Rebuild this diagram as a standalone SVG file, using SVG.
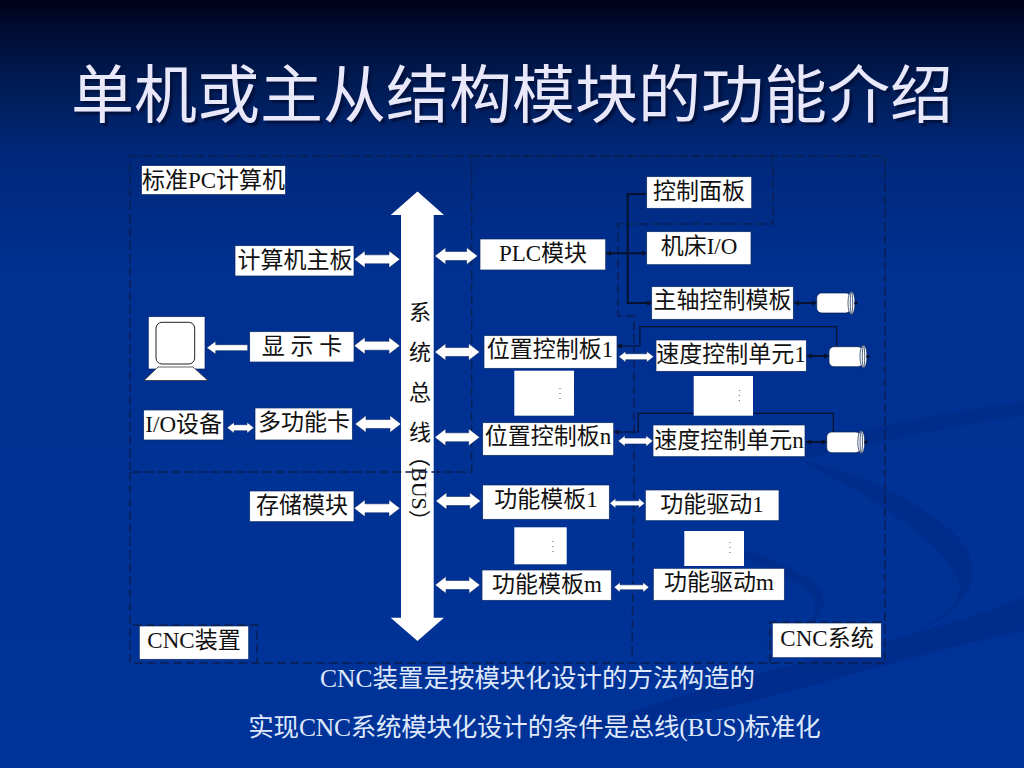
<svg xmlns="http://www.w3.org/2000/svg" width="1024" height="768" viewBox="0 0 1024 768">
<style>
.b{fill:#fff}
.box{fill:#fff;stroke:#0a2a6a;stroke-width:.7}
.t{font-family:"Liberation Serif","Noto Sans CJK SC",serif;font-size:23px;fill:#111;text-anchor:middle}
.cap{font-family:"Liberation Serif","Noto Sans CJK SC",serif;font-size:25.5px;fill:#dfe8fb;text-anchor:middle}
.title{font-family:"Liberation Serif","Noto Sans CJK SC",serif;font-size:63px;fill:#e8e8fa;text-anchor:middle;text-shadow:3px 3px 2px #00123f}
.d{fill:none;stroke:#0a1f52;stroke-width:1.4;stroke-dasharray:9 4}
.k{fill:none;stroke:#06122e;stroke-width:2}
.k1{fill:none;stroke:#06122e;stroke-width:1.2}
.w{fill:#fff;stroke:#0a2a6a;stroke-width:.6}
.dot{fill:none;stroke:#555;stroke-width:1;stroke-dasharray:1 4}
</style>
<defs>
<linearGradient id="bg" x1="0" y1="0" x2="0" y2="1">
<stop offset="0" stop-color="#000018"/><stop offset=".03" stop-color="#000a2c"/><stop offset=".1" stop-color="#001a50"/><stop offset=".2" stop-color="#00287a"/><stop offset=".35" stop-color="#003090"/><stop offset="1" stop-color="#003399"/>
</linearGradient>
<marker id="ka" markerWidth="6" markerHeight="6" refX="5" refY="3" orient="auto-start-reverse" markerUnits="userSpaceOnUse"><path d="M0 .5L6 3L0 5.500z" fill="#06122e"/></marker>
</defs>
<rect width="1024" height="768" fill="url(#bg)"/>
<g id="swoosh" fill="#002a86" opacity=".6">
<path d="M1024 597C930 635 820 655 700 690C640 710 600 720 560 735C650 730 760 700 860 672C930 652 985 640 1024 630Z"/>
<path d="M800 460C880 440 960 425 1024 415L1024 402C950 412 880 425 800 445Z"/>
<path d="M800 460C900 510 960 560 960 590C955 610 930 625 910 635C985 605 985 560 950 530C910 495 850 470 800 460Z"/>
<path d="M700 540C780 570 820 590 815 610C810 625 790 635 770 645C820 630 830 605 820 590C800 565 750 550 700 540Z"/>
</g>
<g id="title"><text class="title" x="512" y="117">单机或主从结构模块的功能介绍</text></g>
<g id="bus"><path class="b" d="M417.500 191.500L444 215H433.700V617.700H444L417.500 641L390.700 617.700H401V215H390.700Z"/>
<text class="t" x="420" y="320" style="font-size:22px">系</text><text class="t" x="420" y="360" style="font-size:22px">统</text><text class="t" x="420" y="400" style="font-size:22px">总</text><text class="t" x="420" y="440" style="font-size:22px">线</text>
<text class="t" transform="translate(412 445) rotate(90)" style="text-anchor:start;font-size:22px">（BUS）</text></g>
<g id="regions">
<path class="d" d="M130 156H471.700V472H130Z"/>
<path class="d" d="M130 472V663H885V156H471.700"/>
<path class="d" d="M471.700 156H773V224H618V316H634V480L632 656"/>
<path class="d" d="M133 625H257V663"/>
<path class="d" d="M770 663V622H885"/>
</g>
<g id="connectors">
<path class="w" d="M354 259.300l11-8.500v4h24v-4l11 8.500-11 8.500v-4h-24v4z"/>
<path class="w" d="M354 345.700l11-8.500v4h24v-4l11 8.500-11 8.500v-4h-24v4z"/>
<path class="w" d="M355 424l11-8.500v4h24v-4l11 8.500-11 8.500v-4h-24v4z"/>
<path class="w" d="M354 508.300l11-8.500v4h24v-4l11 8.500-11 8.500v-4h-24v4z"/>
<path class="w" d="M227 427.700l7-5.500v2.500h13v-2.500l7 5.500-7 5.500v-2.500h-13v2.500z"/>
<path class="w" d="M206.700 347.700l9-6.500v3.500h32v6h-32v3.500z"/>
<path class="w" d="M434.700 256l11-8.500v4h21v-4l11 8.500-11 8.500v-4h-21v4z"/>
<path class="w" d="M434.700 352l11-8.500v4h23v-4l11 8.500-11 8.500v-4h-23v4z"/>
<path class="w" d="M434.700 437.300l11-8.500v4h23v-4l11 8.500-11 8.500v-4h-23v4z"/>
<path class="w" d="M435.700 501l11-8.500v4h23v-4l11 8.500-11 8.500v-4h-23v4z"/>
<path class="w" d="M435 585l11-8.500v4h23v-4l11 8.500-11 8.500v-4h-23v4z"/>
<path class="w" d="M618.700 356.700l7-5.500v2.500h21v-2.500l7 5.500-7 5.500v-2.500h-21v2.500z"/>
<path class="w" d="M618 441l7-5.500v2.500h21v-2.500l7 5.500-7 5.500v-2.500h-21v2.500z"/>
<path class="w" d="M609.700 503.300l6-5v2.500h23v-2.500l6 5-6 5v-2.500h-23v2.500z"/>
<path class="w" d="M614 587.300l6-5v2.500h23v-2.500l6 5-6 5v-2.500h-23v2.500z"/>
<path class="k" marker-start="url(#ka)" marker-end="url(#ka)" d="M606 253.300H647"/>
<path class="k" marker-end="url(#ka)" d="M647 194H627.700V303H652"/>
<path class="k" marker-start="url(#ka)" marker-end="url(#ka)" d="M794 303H817"/>
<path class="k" marker-start="url(#ka)" marker-end="url(#ka)" d="M807 356H829"/>
<path class="k" marker-start="url(#ka)" marker-end="url(#ka)" d="M806 442H827"/>
<path class="k1" marker-start="url(#ka)" d="M617 346H640V326.700H836.700V347"/>
<path class="k1" marker-start="url(#ka)" d="M614 432H638.300V413.300H833.300V433"/>
</g>
<g id="n-pc"><rect class="box" x="141.500" y="165.600" width="144" height="29"/><text class="t" x="213.500" y="188">标准PC计算机</text></g>
<g id="n-main"><rect class="box" x="235" y="245.700" width="119" height="30.300"/><text class="t" x="295" y="268">计算机主板</text></g>
<g id="n-disp"><rect class="box" x="249.700" y="331.700" width="104.300" height="30.300"/><text class="t" x="302" y="354">显 示 卡</text></g>
<g id="n-io"><rect class="box" x="143.700" y="410" width="80" height="30"/><text class="t" x="183.700" y="432">I/O设备</text></g>
<g id="n-multi"><rect class="box" x="255" y="408" width="97.300" height="32"/><text class="t" x="304" y="430">多功能卡</text></g>
<g id="n-mem"><rect class="box" x="249.700" y="491" width="104.300" height="30.700"/><text class="t" x="302" y="513">存储模块</text></g>
<g id="n-monitor"><rect class="box" x="148.300" y="316.700" width="56.700" height="52.300" stroke="#000"/><rect x="156" y="322.300" width="38.700" height="41.700" rx="6" fill="#fff" stroke="#222" stroke-width="1"/><path d="M144 380.500L158 367H193L208 380.500Z" fill="#fff" stroke="#222" stroke-width=".7"/></g>
<g id="n-plc"><rect class="box" x="480" y="239" width="125.700" height="31"/><text class="t" x="543" y="261">PLC模块</text></g>
<g id="n-panel"><rect class="box" x="646.700" y="176.700" width="105" height="31.600"/><text class="t" x="699" y="199">控制面板</text></g>
<g id="n-mio"><rect class="box" x="646.700" y="231.700" width="104.300" height="33"/><text class="t" x="699" y="254">机床I/O</text></g>
<g id="n-spin"><rect class="box" x="651.700" y="286.700" width="141.600" height="32.600"/><text class="t" x="722.500" y="308">主轴控制模板</text></g>
<g id="n-pos1"><rect class="box" x="484" y="335.700" width="133" height="32.600"/><text class="t" x="550" y="357">位置控制板1</text></g>
<g id="n-vel1"><rect class="box" x="656" y="340" width="150.300" height="31.300"/><text class="t" x="731" y="362">速度控制单元1</text></g>
<g id="n-posn"><rect class="box" x="482.700" y="422.700" width="131" height="32.600"/><text class="t" x="548" y="444">位置控制板n</text></g>
<g id="n-veln"><rect class="box" x="653" y="425" width="152" height="31.700"/><text class="t" x="729" y="448">速度控制单元n</text></g>
<g id="n-fm1"><rect class="box" x="482.700" y="485" width="126.600" height="34.300"/><text class="t" x="546" y="507">功能模板1</text></g>
<g id="n-fd1"><rect class="box" x="645.300" y="490" width="133.700" height="30.700"/><text class="t" x="712" y="512">功能驱动1</text></g>
<g id="n-fmm"><rect class="box" x="482" y="570" width="129.300" height="30.300"/><text class="t" x="547" y="592">功能模板m</text></g>
<g id="n-fdm"><rect class="box" x="653.300" y="568.300" width="131" height="32"/><text class="t" x="719" y="590">功能驱动m</text></g>
<g id="n-dots">
<rect class="b" x="514.300" y="370.700" width="59.700" height="45"/><path class="dot" d="M560 388V400"/>
<rect class="b" x="693.700" y="376" width="59.300" height="39.700"/><path class="dot" d="M739.300 390V402"/>
<rect class="b" x="514.300" y="527.300" width="52.400" height="37"/><path class="dot" d="M553 541V553"/>
<rect class="b" x="684.300" y="531" width="59.700" height="35"/><path class="dot" d="M730 542V554"/>
</g>
<g id="motors" fill="#fff" stroke="#06204f" stroke-width=".7">
<g id="m1"><rect x="816.700" y="293" width="34" height="20" rx="5"/><ellipse cx="851.500" cy="303" rx="3.500" ry="11.500"/><ellipse cx="851.500" cy="303" rx="1.200" ry="11"/><circle cx="856" cy="303" r="1.600" fill="#06122e"/></g>
<g id="m2"><rect x="829" y="346.700" width="34" height="20" rx="5"/><ellipse cx="863.500" cy="356.500" rx="3.500" ry="11.500"/><ellipse cx="863.500" cy="356.500" rx="1.200" ry="11"/><circle cx="868" cy="356.500" r="1.600" fill="#06122e"/></g>
<g id="m3"><rect x="826.700" y="432" width="34" height="20.700" rx="5"/><ellipse cx="861.300" cy="442" rx="3.500" ry="11.500"/><ellipse cx="861.300" cy="442" rx="1.200" ry="11"/><circle cx="866" cy="442" r="1.600" fill="#06122e"/></g>
</g>
<g id="n-cncd"><rect class="box" x="139.300" y="626" width="109.400" height="33.300"/><text class="t" x="194" y="648">CNC装置</text></g>
<g id="n-cncs"><rect class="box" x="772.300" y="623" width="109" height="34.700"/><text class="t" x="827" y="646">CNC系统</text></g>
<g id="captions"><text class="cap" x="537.500" y="687">CNC装置是按模块化设计的方法构造的</text><text class="cap" x="534.500" y="736" style="letter-spacing:-.22px">实现CNC系统模块化设计的条件是总线(BUS)标准化</text></g>
</svg>
